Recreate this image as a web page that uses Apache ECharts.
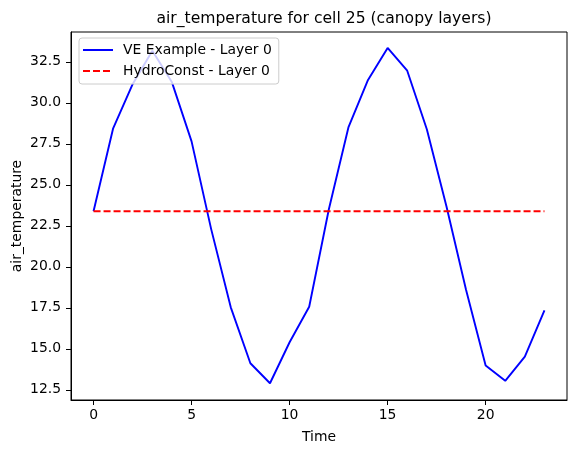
<!DOCTYPE html>
<html>
<head>
<meta charset="utf-8">
<script src="https://cdn.jsdelivr.net/npm/echarts@6/dist/echarts.min.js"></script>
<style>
  html, body { margin: 0; padding: 0; background: #fff; }
  #chart { width: 576px; height: 454px; }
</style>
</head>
<body>
<div id="chart"></div>
<script>
// hourly values
var times = [0, 1, 2, 3, 4, 5, 6, 7, 8, 9, 10, 11, 12, 13, 14, 15, 16, 17, 18, 19, 20, 21, 22, 23];
var veLayer0 = [23.39, 28.45, 31.15, 33.18, 31.25, 27.65, 22.3, 17.53, 14.12, 12.9, 15.4, 17.57,
                23.5, 28.5, 31.4, 33.35, 31.96, 28.39, 23.7, 18.6, 13.98, 13.05, 14.53, 17.35];
var hydroLayer0 = [23.39, 23.39, 23.39, 23.39, 23.39, 23.39, 23.39, 23.39, 23.39, 23.39, 23.39, 23.39,
                   23.39, 23.39, 23.39, 23.39, 23.39, 23.39, 23.39, 23.39, 23.39, 23.39, 23.39, 23.39];
var xTicks = [0, 5, 10, 15, 20];
var yTicks = [12.5, 15.0, 17.5, 20.0, 22.5, 25.0, 27.5, 30.0, 32.5];

var font = 'DejaVu Sans';
var fs = 13.9;

function pairs(ys) {
  return times.map(function (t, i) { return [t, ys[i]]; });
}

var chart = echarts.init(document.getElementById('chart'));
chart.setOption({
  animation: false,
  backgroundColor: '#ffffff',
  title: {
    text: 'air_temperature for cell 25 (canopy layers)',
    left: 319,
    textAlign: 'center',
    top: 6,
    textStyle: { fontFamily: font, fontSize: 15.6, fontWeight: 'normal', color: '#000' }
  },
  legend: {
    left: 79,
    top: 38,
    orient: 'vertical',
    padding: [5, 7, 6, 3],
    itemWidth: 30,
    itemHeight: 14,
    itemGap: 7,
    itemStyle: { opacity: 0 },
    backgroundColor: 'rgba(255,255,255,0.8)',
    borderColor: '#cccccc',
    borderWidth: 1,
    borderRadius: 3,
    textStyle: { fontFamily: font, fontSize: fs, lineHeight: 14, color: '#000', padding: [0, 0, 0, 5] },
    data: ['VE Example - Layer 0', 'HydroConst - Layer 0']
  },
  grid: {
    left: 71, right: 9, top: 32, bottom: 54,
    containLabel: false,
    outerBoundsMode: 'none',
    show: true,
    borderColor: '#000',
    borderWidth: 1
  },
  xAxis: {
    type: 'value',
    min: -1.15,
    max: 24.15,
    name: 'Time',
    nameLocation: 'middle',
    nameGap: 30,
    nameMoveOverlap: false,
    nameTextStyle: { fontFamily: font, fontSize: fs, color: '#000' },
    axisLine: { show: true, onZero: false, lineStyle: { color: '#000', width: 1 } },
    axisTick: { show: true, customValues: xTicks, length: 5, lineStyle: { color: '#000' } },
    axisLabel: { customValues: xTicks, margin: 8, fontFamily: font, fontSize: fs, color: '#000' },
    splitLine: { show: false }
  },
  yAxis: {
    type: 'value',
    min: 11.88,
    max: 34.32,
    name: 'air_temperature',
    nameLocation: 'middle',
    nameGap: 47,
    nameMoveOverlap: false,
    nameTextStyle: { fontFamily: font, fontSize: fs, color: '#000' },
    axisLine: { show: true, onZero: false, lineStyle: { color: '#000', width: 1 } },
    axisTick: { show: true, customValues: yTicks, length: 5, lineStyle: { color: '#000' } },
    axisLabel: {
      customValues: yTicks, margin: 10, fontFamily: font, fontSize: fs, color: '#000',
      formatter: function (v) { return v.toFixed(1); }
    },
    splitLine: { show: false }
  },
  series: [
    {
      name: 'VE Example - Layer 0',
      type: 'line',
      data: pairs(veLayer0),
      symbol: 'none',
      color: '#0000ff',
      lineStyle: { color: '#0000ff', width: 1.9 },
      z: 2
    },
    {
      name: 'HydroConst - Layer 0',
      type: 'line',
      data: pairs(hydroLayer0),
      symbol: 'none',
      color: '#ff0000',
      lineStyle: { color: '#ff0000', width: 1.9, type: [7, 3] },
      z: 3
    }
  ]
});
</script>
</body>
</html>
